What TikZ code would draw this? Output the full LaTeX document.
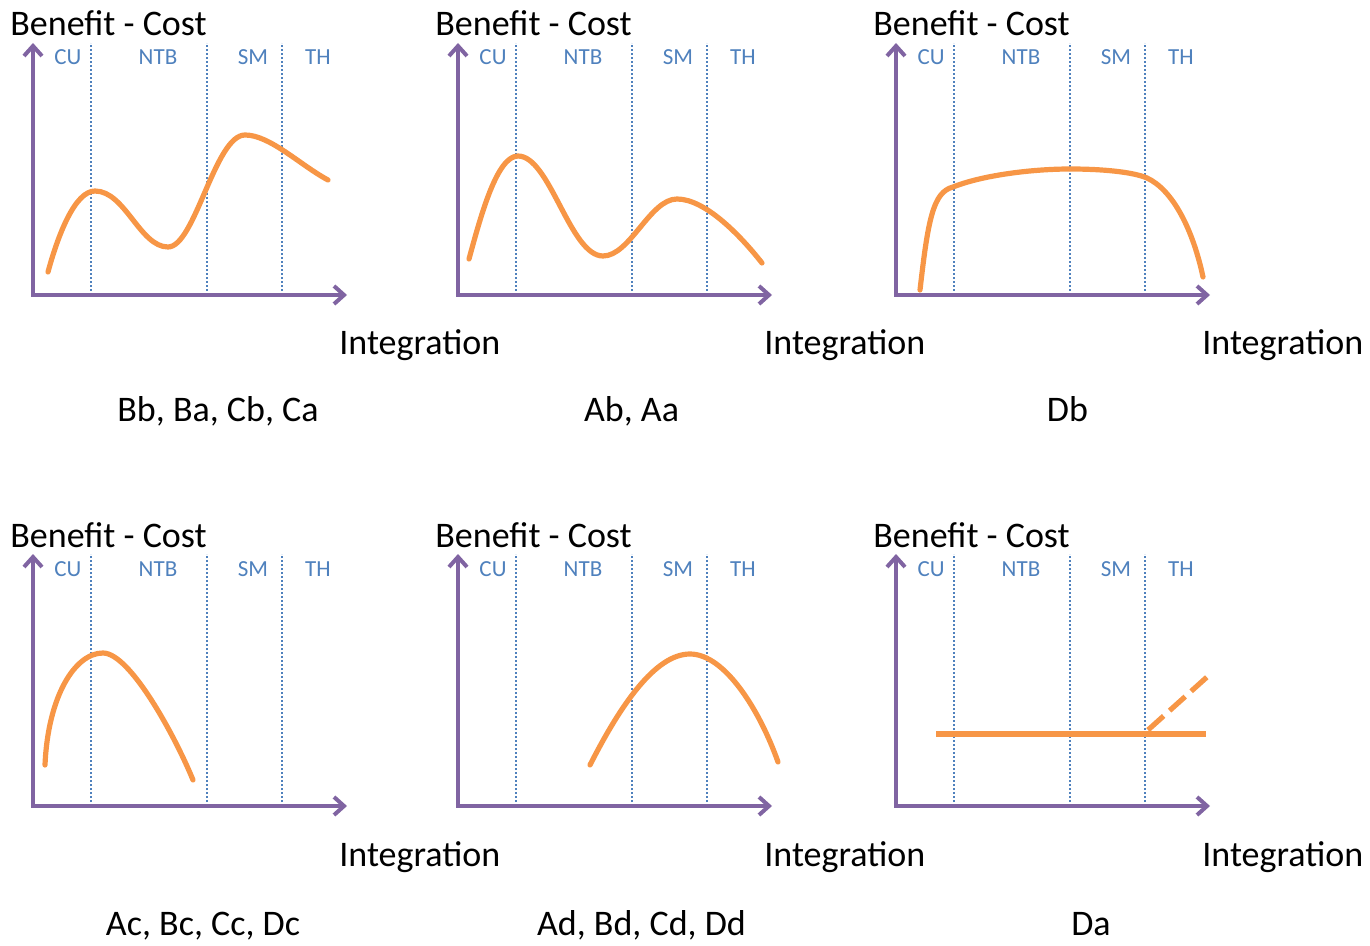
\documentclass[tikz,border=0pt]{standalone}
\usepackage{fontspec}
\setmainfont{Carlito}
\usetikzlibrary{arrows.meta}
\definecolor{curveorange}{HTML}{F79646}
\definecolor{axispurple}{HTML}{8064A2}
\definecolor{zoneblue}{HTML}{4F81BD}

% One panel: axes, zone dividers and zone names; the curve is drawn separately.
% #1 name prefix, #2/#3 shift, #4 caption x, #5 caption baseline, #6 caption text
\newcommand\zonepanel[6]{%
  \begin{scope}[shift={(#2,#3)}, name prefix=#1-]
    \coordinate (o) at (33,295);
    \coordinate (ytip) at (33,43);
    \coordinate (xtip) at (347,295);
    \coordinate (d1b) at (91,295);  \coordinate (d1t) at (91,43);
    \coordinate (d2b) at (207,295); \coordinate (d2t) at (207,43);
    \coordinate (d3b) at (282,295); \coordinate (d3t) at (282,43);
    \draw[divider] (d1b) -- (d1t);
    \draw[divider] (d2b) -- (d2t);
    \draw[divider] (d3b) -- (d3t);
    \draw[axisline] (ytip) -- (o) -- (xtip);
    \node[ylabel] (ylab) at (10,36) {Benefit - Cost};
    \node[zonelabel] (cu)  at (68,65)  {CU};
    \node[zonelabel] (ntb) at (158,65) {NTB};
    \node[zonelabel] (sm)  at (253,65) {SM};
    \node[zonelabel] (th)  at (318,65) {TH};
    \node[xlabel] (xlab) at (339,355) {Integration};
    \node[caption] (cap) at (#4,#5) {#6};
  \end{scope}}

\begin{document}
\begin{tikzpicture}[x=0.5pt,y=-0.5pt,
  axisline/.style={draw=axispurple, line width=2pt,
    {Straight Barb[length=5pt,width=9pt,line width=2pt]}-{Straight Barb[length=5pt,width=9pt,line width=2pt]}},
  divider/.style={draw=zoneblue, line width=0.8pt, dash pattern=on 0.8pt off 1.2pt},
  curve/.style={draw=curveorange, line width=2.6pt, line cap=round, line join=round},
  ylabel/.style={anchor=base west, inner sep=0pt, font=\fontsize{18}{20}\selectfont},
  xlabel/.style={anchor=base west, inner sep=0pt, font=\fontsize{18}{20}\selectfont},
  caption/.style={anchor=base, inner sep=0pt, font=\fontsize{18}{20}\selectfont},
  zonelabel/.style={anchor=base, inner sep=0pt, text=zoneblue, font=\fontsize{11.5}{13}\selectfont}]
\useasboundingbox (0,0) rectangle (1370,946);

% top row
\zonepanel{p1}{0}{0}{218}{422}{Bb, Ba, Cb, Ca}
\zonepanel{p2}{425}{0}{206.5}{422}{Ab, Aa}
\zonepanel{p3}{863}{0}{204.5}{422}{Db}
% bottom row
\zonepanel{p4}{0}{511}{203}{424}{Ac, Bc, Cc, Dc}
\zonepanel{p5}{425}{511}{216.5}{424}{Ad, Bd, Cd, Dd}
\zonepanel{p6}{863}{511}{228}{424}{Da}

% two peaks, the second higher
\begin{scope}[shift={(0,0)}]
  \draw[curve] (48,272) .. controls (58,235) and (75,191) .. (95,191)
    .. controls (125,191) and (140,247) .. (168,247)
    .. controls (195,247) and (215,135) .. (245,135)
    .. controls (270,135) and (300,165) .. (328,180);
\end{scope}
% two peaks, the first higher
\begin{scope}[shift={(425,0)}]
  \draw[curve] (44,259) .. controls (56,215) and (72,156) .. (93,156)
    .. controls (125,156) and (145,256) .. (178,256)
    .. controls (205,256) and (225,199) .. (252,199)
    .. controls (280,199) and (315,235) .. (337,263);
\end{scope}
% plateau
\begin{scope}[shift={(863,0)}]
  \draw[curve] (57,290) .. controls (65,220) and (70,192) .. (90,187)
    .. controls (120,175) and (170,169) .. (207,169)
    .. controls (240,169) and (270,172) .. (284,178)
    .. controls (310,190) and (330,230) .. (340,277);
\end{scope}
% early single peak
\begin{scope}[shift={(0,511)}]
  \draw[curve] (45,254) .. controls (48,185) and (75,142) .. (103,142)
    .. controls (130,142) and (175,225) .. (193,269);
\end{scope}
% late single peak
\begin{scope}[shift={(425,511)}]
  \draw[curve] (165,254) .. controls (195,195) and (230,143) .. (265,143)
    .. controls (300,143) and (335,200) .. (353,251);
\end{scope}
% flat line with a dashed rise
\begin{scope}[shift={(863,511)}]
  \coordinate (flatA) at (73,223);
  \coordinate (flatB) at (343,223);
  \coordinate (riseA) at (285,219);
  \coordinate (riseB) at (344,166);
  \draw[curve, line cap=butt] (flatA) -- (flatB);
  \draw[curve, line cap=butt, dash pattern=on 10.5pt off 4pt] (riseA) -- (riseB);
\end{scope}
\end{tikzpicture}
\end{document}
